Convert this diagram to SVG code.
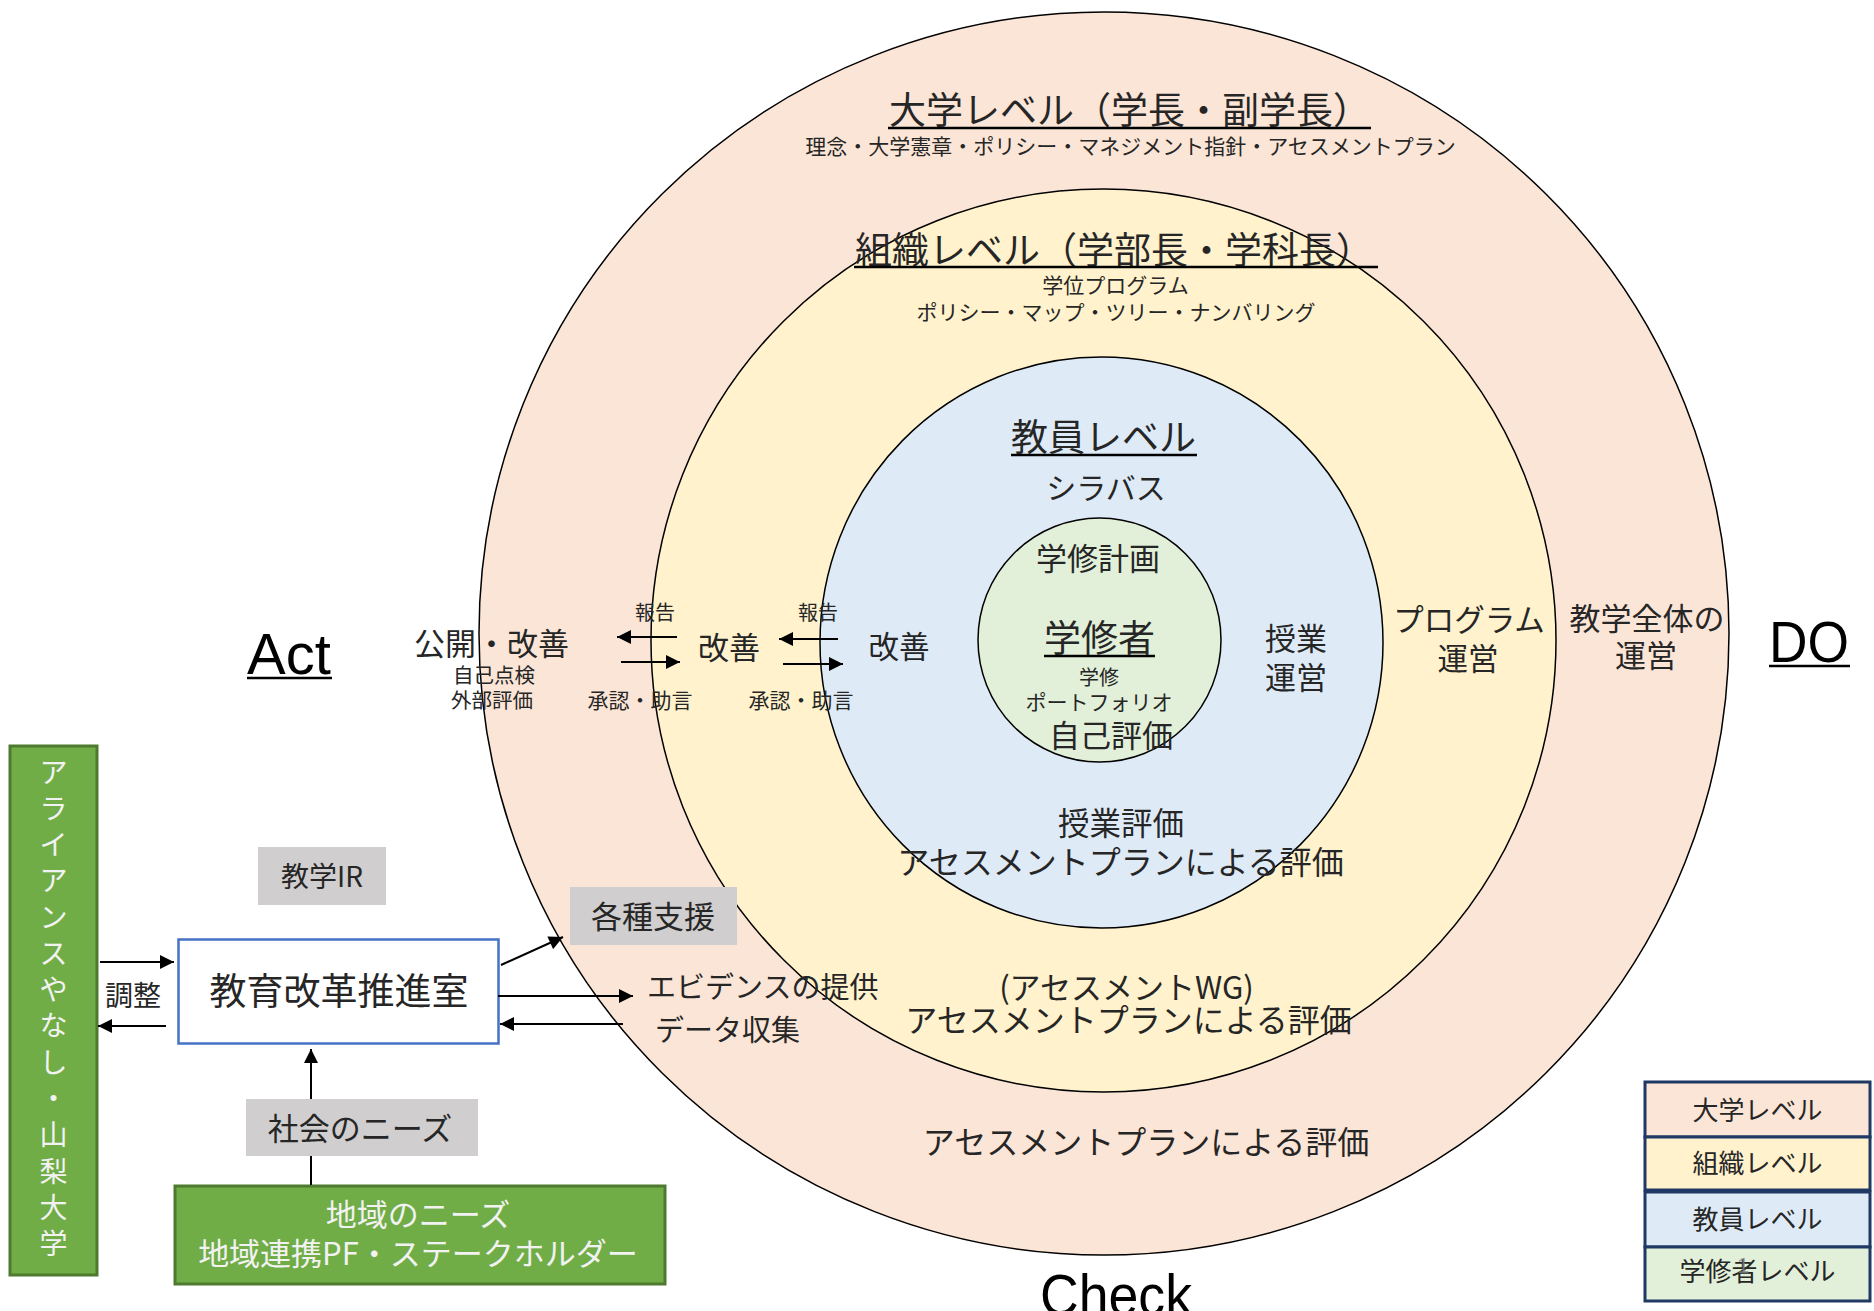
<svg xmlns="http://www.w3.org/2000/svg" width="1874" height="1311" viewBox="0 0 1874 1311">
<style>
.jp{font-family:"Noto Sans CJK JP","Noto Sans",sans-serif;fill:#262626;}
.lat{font-family:"Liberation Sans",Arial,sans-serif;fill:#000;}
.m{text-anchor:middle;}
.ell{stroke:#000;stroke-width:1.5;}
.ul{stroke:#000;stroke-width:2.5;}
.con{stroke:#000;stroke-width:2;fill:none;}
.gray{fill:#d0cece;}
.green{fill:#70ad47;stroke:#4e7a30;stroke-width:3;}
.leg{stroke:#1f3864;stroke-width:3;}
</style>
<defs>
<marker id="ah" viewBox="0 0 10 10" refX="10" refY="5" markerWidth="16" markerHeight="14" markerUnits="userSpaceOnUse" orient="auto">
<path d="M0,0 L10,5 L0,10 z" fill="#000"/>
</marker>
</defs>
<rect width="1874" height="1311" fill="#fff"/>

<g id="university-level">
<ellipse class="ell" cx="1104" cy="633.5" rx="625" ry="621.5" fill="#fbe5d6"/>
</g>
<g id="organization-level">
<ellipse class="ell" cx="1103.5" cy="640.5" rx="452.5" ry="451.5" fill="#fff2cc"/>
</g>
<g id="faculty-level">
<ellipse class="ell" cx="1101.5" cy="642.5" rx="281.5" ry="285.5" fill="#deebf7"/>
</g>
<g id="learner-level">
<ellipse class="ell" cx="1099.5" cy="640" rx="121.5" ry="122" fill="#e2f0d9"/>
</g>

<g id="university-texts">
<text class="jp" x="889" y="124" font-size="37" fill="#000">大学レベル（学長・副学長）</text>
<line class="ul" x1="888" y1="128" x2="1371" y2="128"/>
<text class="jp m" x="1130.5" y="154" font-size="21">理念・大学憲章・ポリシー・マネジメント指針・アセスメントプラン</text>
<text class="jp m" x="1647" y="630" font-size="31">教学全体の</text>
<text class="jp m" x="1646" y="667" font-size="31">運営</text>
<text class="jp m" x="491.5" y="655" font-size="31">公開・改善</text>
<text class="jp m" x="494" y="683" font-size="20.5">自己点検</text>
<text class="jp m" x="492" y="708" font-size="20.5">外部評価</text>
<text class="jp m" x="1146" y="1154" font-size="32">アセスメントプランによる評価</text>
</g>

<g id="organization-texts">
<text class="jp" x="855" y="264" font-size="37" fill="#000">組織レベル（学部長・学科長）</text>
<line class="ul" x1="854" y1="267" x2="1378" y2="267"/>
<text class="jp m" x="1115.5" y="293" font-size="21">学位プログラム</text>
<text class="jp m" x="1116" y="320" font-size="21">ポリシー・マップ・ツリー・ナンバリング</text>
<text class="jp m" x="1469" y="631" font-size="30.5">プログラム</text>
<text class="jp m" x="1468" y="670" font-size="30.5">運営</text>
<text class="jp m" x="729" y="659" font-size="31">改善</text>
<text class="jp m" x="655" y="620" font-size="20">報告</text>
<text class="jp m" x="640" y="708" font-size="21">承認・助言</text>
<text class="jp m" x="1126.5" y="999" font-size="31">(アセスメントWG)</text>
<text class="jp m" x="1128.5" y="1032" font-size="32">アセスメントプランによる評価</text>
</g>

<g id="faculty-texts">
<text class="jp" x="1011" y="451" font-size="37" fill="#000">教員レベル</text>
<line class="ul" x1="1011" y1="455" x2="1197" y2="455"/>
<text class="jp m" x="1106" y="499" font-size="30">シラバス</text>
<text class="jp m" x="899" y="658" font-size="30.5">改善</text>
<text class="jp m" x="818" y="620" font-size="20">報告</text>
<text class="jp m" x="801" y="708" font-size="21">承認・助言</text>
<text class="jp m" x="1296" y="650" font-size="31">授業</text>
<text class="jp m" x="1296" y="689" font-size="31">運営</text>
<text class="jp m" x="1121" y="835" font-size="31.5">授業評価</text>
<text class="jp m" x="1120.5" y="874" font-size="32">アセスメントプランによる評価</text>
</g>

<g id="learner-texts">
<text class="jp m" x="1098" y="570" font-size="31">学修計画</text>
<text class="jp" x="1044" y="652" font-size="37" fill="#000">学修者</text>
<line class="ul" x1="1044" y1="656" x2="1155" y2="656"/>
<text class="jp m" x="1099" y="685" font-size="20">学修</text>
<text class="jp m" x="1099" y="710" font-size="21">ポートフォリオ</text>
<text class="jp m" x="1111" y="747" font-size="31">自己評価</text>
</g>

<g id="pdca-labels">
<text class="lat" x="247" y="674" font-size="58">Act</text>
<line class="ul" x1="247" y1="678" x2="332" y2="678" stroke-width="3"/>
<text class="lat" x="1769" y="662" font-size="58" textLength="80" lengthAdjust="spacingAndGlyphs">DO</text>
<line class="ul" x1="1769" y1="666" x2="1850" y2="666" stroke-width="3"/>
<text class="lat" x="1040" y="1315" font-size="58" textLength="152" lengthAdjust="spacingAndGlyphs">Check</text>
</g>

<g id="alliance">
<rect class="green" x="10" y="746" width="87" height="529"/>
<text class="jp m" font-size="28" style="fill:#f2f2f2"><tspan x="53.5" y="782.5">ア</tspan><tspan x="53.5" y="818.8">ラ</tspan><tspan x="53.5" y="855">イ</tspan><tspan x="53.5" y="891.3">ア</tspan><tspan x="53.5" y="927.6">ン</tspan><tspan x="53.5" y="963.9">ス</tspan><tspan x="53.5" y="1000.1">や</tspan><tspan x="53.5" y="1036.4">な</tspan><tspan x="53.5" y="1072.7">し</tspan><tspan x="53.5" y="1109">・</tspan><tspan x="53.5" y="1145.2">山</tspan><tspan x="53.5" y="1181.5">梨</tspan><tspan x="53.5" y="1217.8">大</tspan><tspan x="53.5" y="1254">学</tspan></text>
</g>

<g id="ir">
<rect class="gray" x="258" y="847" width="128" height="58"/>
<text class="jp m" x="322" y="887" font-size="28">教学IR</text>
</g>

<g id="support">
<rect class="gray" x="570" y="887" width="167" height="58"/>
<text class="jp m" x="653" y="928" font-size="31">各種支援</text>
</g>

<g id="reform-office">
<rect x="178.5" y="939.5" width="320" height="104" fill="#fff" stroke="#4472c4" stroke-width="2.5"/>
<text class="jp m" x="339" y="1005" font-size="37">教育改革推進室</text>
</g>

<g id="social-needs">
<rect class="gray" x="246" y="1099" width="232" height="57"/>
<text class="jp m" x="360" y="1140" font-size="31">社会のニーズ</text>
</g>

<g id="regional-needs">
<rect class="green" x="175" y="1186" width="490" height="98"/>
<text class="jp m" x="418" y="1226" font-size="31" style="fill:#f2f2f2">地域のニーズ</text>
<text class="jp m" x="418" y="1265" font-size="31" style="fill:#f2f2f2">地域連携PF・ステークホルダー</text>
</g>

<g id="connector-labels">
<text class="jp" x="647" y="998" font-size="29">エビデンスの提供</text>
<text class="jp" x="655" y="1041" font-size="29">データ収集</text>
<text class="jp m" x="133" y="1006" font-size="28">調整</text>
</g>

<g id="connectors">
<line class="con" x1="677" y1="637" x2="617" y2="637" marker-end="url(#ah)"/>
<line class="con" x1="621" y1="662" x2="680" y2="662" marker-end="url(#ah)"/>
<line class="con" x1="838" y1="639" x2="779" y2="639" marker-end="url(#ah)"/>
<line class="con" x1="783" y1="664" x2="843" y2="664" marker-end="url(#ah)"/>
<line class="con" x1="501" y1="965" x2="563" y2="937" marker-end="url(#ah)"/>
<line class="con" x1="498" y1="996" x2="633" y2="996" marker-end="url(#ah)"/>
<line class="con" x1="623" y1="1024" x2="500" y2="1024" marker-end="url(#ah)"/>
<line class="con" x1="100" y1="962" x2="174" y2="962" marker-end="url(#ah)"/>
<line class="con" x1="166" y1="1026" x2="98" y2="1026" marker-end="url(#ah)"/>
<line class="con" x1="311" y1="1099" x2="311" y2="1049" marker-end="url(#ah)"/>
<line class="con" x1="311" y1="1156" x2="311" y2="1185"/>
</g>

<g id="legend">
<rect class="leg" x="1645" y="1082" width="225" height="55" fill="#fbe5d6"/>
<rect class="leg" x="1645" y="1137" width="225" height="53" fill="#fff2cc"/>
<rect class="leg" x="1645" y="1192" width="225" height="55" fill="#deebf7"/>
<rect class="leg" x="1645" y="1247" width="225" height="54" fill="#e2f0d9"/>
<text class="jp m" x="1757.5" y="1120" font-size="26">大学レベル</text>
<text class="jp m" x="1757.5" y="1173" font-size="26">組織レベル</text>
<text class="jp m" x="1757.5" y="1229" font-size="26">教員レベル</text>
<text class="jp m" x="1757.5" y="1281" font-size="26">学修者レベル</text>
<text class="lat" x="1737" y="1273" font-size="22" style="fill:#7f7f7f" opacity="0.8">1</text>
</g>
</svg>
